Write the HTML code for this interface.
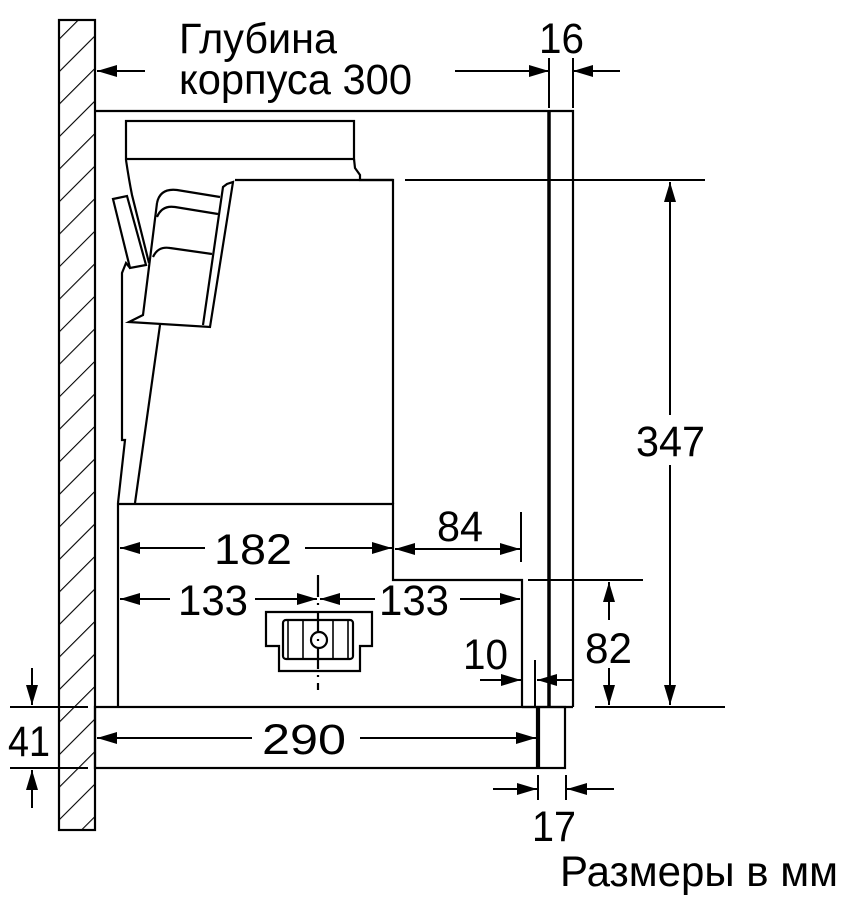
<!DOCTYPE html>
<html><head><meta charset="utf-8"><style>
html,body{margin:0;padding:0;background:#fff;}
svg{display:block;}
text{font-family:"Liberation Sans","Noto Sans CJK SC",sans-serif;font-size:43px;fill:#000;}
</style></head><body>
<svg width="849" height="900" viewBox="0 0 849 900" xmlns="http://www.w3.org/2000/svg">
<defs>
<pattern id="h" patternUnits="userSpaceOnUse" width="23" height="23" patternTransform="rotate(45)">
<line x1="0" y1="0" x2="0" y2="23" stroke="#000" stroke-width="2.2"/>
</pattern>
<marker id="a" markerWidth="20" markerHeight="12" refX="20" refY="6" orient="auto" markerUnits="userSpaceOnUse">
<path d="M0,0 L20,6 L0,12 Z" fill="#000"/>
</marker>
</defs>
<g fill="none" stroke="#000" stroke-width="2.2">
<rect x="59" y="20" width="36" height="810" fill="url(#h)"/>
<polyline points="95,111 573,111 573,707"/>
<line x1="549" y1="111" x2="549" y2="707" stroke-width="3.5"/>
<line x1="522" y1="707" x2="573" y2="707"/>
<rect x="95" y="707" width="442" height="61"/>
<rect x="539" y="707" width="26" height="61"/>
<polyline points="118,707 118,504 393,504 393,580 522,580 522,707"/>
<polyline points="235,180 393,180 393,504"/>
<rect x="126" y="121" width="228" height="38"/>
<polyline points="354,159 355,168 360,175 360,180 393,180"/>
<path d="M126,160 Q129,180 132,195 L149,263"/>
<polygon points="113,199 127,196 146,265 130,268"/>
<polyline points="130,268 126,263 122,273 122,440 125,440 118,503"/>
<path d="M157,203 Q160,188 177,190 L220,197"/>
<path d="M157,217 Q162,205 175,207 L218,214"/>
<path d="M153,257 Q158,246 170,248 L212,254"/>
<polyline points="157,203 143,315 129,322 210,327 233,182 227,184 223,187 203,325"/>
<line x1="160" y1="325" x2="135" y2="503"/>
<polygon points="266,612 372,612 372,646 360,646 360,671 279,671 279,646 266,646"/>
<rect x="283" y="620" width="70" height="39" rx="3"/>
<g stroke-width="1.6">
<line x1="288" y1="619" x2="288" y2="660"/><line x1="303" y1="619" x2="303" y2="660"/>
<line x1="333" y1="619" x2="333" y2="660"/><line x1="348" y1="619" x2="348" y2="660"/>
</g>
<circle cx="319" cy="640" r="8"/>
<line x1="318" y1="575" x2="318" y2="690" stroke-dasharray="22,6,2,6"/>
</g>
<g stroke="#000" stroke-width="2" fill="none">
<line x1="549" y1="58" x2="549" y2="108"/>
<line x1="573" y1="58" x2="573" y2="108"/>
<line x1="405" y1="180" x2="705" y2="180"/>
<line x1="521" y1="512" x2="521" y2="562"/>
<line x1="528" y1="580" x2="643" y2="580"/>
<line x1="595" y1="707" x2="725" y2="707"/>
<line x1="535" y1="660" x2="535" y2="706"/>
<line x1="538" y1="775" x2="538" y2="800"/>
<line x1="566" y1="775" x2="566" y2="800"/>
<line x1="10" y1="707" x2="88" y2="707"/>
<line x1="10" y1="768" x2="88" y2="768"/>
<line x1="145" y1="71" x2="97" y2="71" marker-end="url(#a)"/>
<line x1="455" y1="71" x2="549" y2="71" marker-end="url(#a)"/>
<line x1="620" y1="71" x2="573" y2="71" marker-end="url(#a)"/>
<line x1="670" y1="415" x2="670" y2="182" marker-end="url(#a)"/>
<line x1="670" y1="465" x2="670" y2="705" marker-end="url(#a)"/>
<line x1="205" y1="548" x2="120" y2="548" marker-end="url(#a)"/>
<line x1="305" y1="548" x2="392" y2="548" marker-end="url(#a)"/>
<line x1="460" y1="549" x2="395" y2="549" marker-end="url(#a)"/>
<line x1="460" y1="549" x2="520" y2="549" marker-end="url(#a)"/>
<line x1="170" y1="599" x2="120" y2="599" marker-end="url(#a)"/>
<line x1="255" y1="599" x2="317" y2="599" marker-end="url(#a)"/>
<line x1="375" y1="599" x2="320" y2="599" marker-end="url(#a)"/>
<line x1="460" y1="599" x2="520" y2="599" marker-end="url(#a)"/>
<line x1="609" y1="620" x2="609" y2="582" marker-end="url(#a)"/>
<line x1="609" y1="668" x2="609" y2="705" marker-end="url(#a)"/>
<line x1="480" y1="680" x2="521" y2="680" marker-end="url(#a)"/>
<line x1="573" y1="680" x2="537" y2="680" marker-end="url(#a)"/>
<line x1="252" y1="738" x2="97" y2="738" marker-end="url(#a)"/>
<line x1="360" y1="738" x2="536" y2="738" marker-end="url(#a)"/>
<line x1="493" y1="789" x2="537" y2="789" marker-end="url(#a)"/>
<line x1="614" y1="789" x2="567" y2="789" marker-end="url(#a)"/>
<line x1="32" y1="668" x2="32" y2="705" marker-end="url(#a)"/>
<line x1="32" y1="808" x2="32" y2="770" marker-end="url(#a)"/>
</g>
<text x="179" y="53" textLength="158" lengthAdjust="spacingAndGlyphs">Глубина</text>
<text x="179" y="94" textLength="233" lengthAdjust="spacingAndGlyphs">корпуса 300</text>
<text x="539" y="53" textLength="45" lengthAdjust="spacingAndGlyphs">16</text>
<text x="636" y="456" textLength="69" lengthAdjust="spacingAndGlyphs">347</text>
<text x="214" y="564" textLength="78" lengthAdjust="spacingAndGlyphs">182</text>
<text x="437" y="541" textLength="46" lengthAdjust="spacingAndGlyphs">84</text>
<text x="178" y="615" textLength="70" lengthAdjust="spacingAndGlyphs">133</text>
<text x="379" y="615" textLength="70" lengthAdjust="spacingAndGlyphs">133</text>
<text x="585" y="663" textLength="47" lengthAdjust="spacingAndGlyphs">82</text>
<text x="463" y="669" textLength="45" lengthAdjust="spacingAndGlyphs">10</text>
<text x="262" y="754" textLength="84" lengthAdjust="spacingAndGlyphs">290</text>
<text x="8" y="756" textLength="42" lengthAdjust="spacingAndGlyphs">41</text>
<text x="532" y="841" textLength="44" lengthAdjust="spacingAndGlyphs">17</text>
<text x="560" y="886" textLength="278" lengthAdjust="spacingAndGlyphs">Размеры в мм</text>
</svg>
</body></html>
